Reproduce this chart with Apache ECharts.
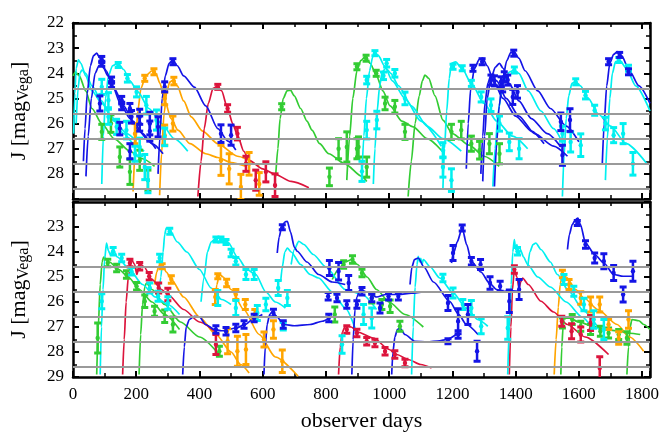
<!DOCTYPE html>
<html lang="en">
<head>
    <meta charset="UTF-8">
    <title>J light curves</title>
    <style>
        body { margin: 0; background: #fff; }
        #main { width: 664px; height: 443px; }
    </style>
    <script src="https://cdnjs.cloudflare.com/ajax/libs/echarts/6.0.0/echarts.min.js"></script>
</head>
<body>
    <div id="main"></div>
    <script>
        // ---- data: [day, mag] for curves, [day, mag, err] for points ----
        const guideMags = [24.6, 25.6, 26.6, 27.6, 28.6];
        const xTicks = [0, 200, 400, 600, 800, 1000, 1200, 1400, 1600, 1800];

        // top panel
        const topBlueCurves = [
            [[33,27.5],[38,26.2],[45,24.8],[55,23.7],[65,23.3],[75,23.2],[85,23.4],[97,23.8],[110,24.1],[130,24.6],[160,25.3],[190,25.9],[220,26.4],[250,26.8],[285,27.2]],
            [[41,28.1],[48,26.5],[58,25.0],[70,24.0],[82,23.7],[92,23.65],[105,23.9],[125,24.5],[150,25.2],[180,25.8],[210,26.3],[240,26.7],[262,27.0]],
            [[269,28.0],[275,26.5],[282,25.0],[292,24.1],[304,23.6],[316,23.47],[330,23.7],[350,24.1],[384,24.55],[420,25.3],[458,26.2],[490,26.7],[515,27.05]],
            [[1244,27.8],[1250,26.0],[1258,24.6],[1270,23.8],[1285,23.45],[1296,23.4],[1310,23.7],[1330,24.3],[1360,25.0],[1400,25.7],[1450,26.3],[1490,26.8]],
            [[1296,28.3],[1302,26.5],[1310,25.0],[1322,24.2],[1336,23.75],[1349,23.6],[1360,23.8],[1380,24.4],[1410,25.1],[1450,25.8],[1500,26.4],[1543,26.93]],
            [[1333,28.5],[1340,26.8],[1348,25.3],[1358,24.3],[1372,23.5],[1385,23.17],[1395,23.14],[1410,23.4],[1430,23.9],[1470,24.7],[1510,25.4],[1560,26.1],[1600,26.73]],
            [[1290,28.0],[1296,26.5],[1303,25.2],[1312,24.4],[1322,24.07],[1340,24.3],[1370,25.0],[1410,25.7],[1460,26.4],[1520,26.9],[1564,27.3]],
            [[1674,27.65],[1680,26.0],[1688,24.5],[1698,23.6],[1710,23.25],[1721,23.14],[1735,23.3],[1760,23.9],[1790,24.5],[1825,25.2]]
        ];
        const topCyanCurves = [
            [[2,26.4],[6,24.8],[10,23.8],[17,23.47],[25,23.6],[40,24.1],[60,24.7],[91,25.2],[130,25.9],[170,26.4],[200,26.7]],
            [[10,26.0],[16,24.6],[22,24.0],[28,23.87],[40,24.0],[60,24.5],[90,25.1],[120,25.7],[160,26.4],[200,26.9],[225,27.1]],
            [[91,28.4],[96,26.5],[103,25.0],[112,24.1],[125,23.7],[143,23.6],[160,23.85],[180,24.3],[206,24.75],[240,25.4],[280,26.0],[320,26.6],[363,27.1]],
            [[914,28.0],[920,26.5],[928,25.0],[938,23.9],[948,23.35],[955,23.2],[966,23.3],[985,23.7],[1010,24.3],[1050,25.0],[1100,25.9],[1165,26.9]],
            [[950,28.4],[955,27.0],[962,25.5],[970,24.5],[978,23.94],[990,23.8],[1005,24.0],[1030,24.5],[1070,25.3],[1120,26.1],[1170,26.6],[1228,27.1]],
            [[1170,28.6],[1175,27.0],[1182,25.5],[1190,24.2],[1197,23.6],[1210,23.55],[1230,23.8],[1260,24.4],[1300,25.2],[1340,25.9],[1390,26.5],[1438,27.0]],
            [[1328,28.5],[1335,27.0],[1345,25.5],[1360,24.4],[1380,23.95],[1396,23.87],[1410,24.0],[1440,24.7],[1480,25.5],[1520,26.2],[1553,26.9]],
            [[1548,28.9],[1553,27.3],[1560,25.8],[1568,24.9],[1578,24.4],[1590,24.34],[1605,24.5],[1630,25.0],[1660,25.6],[1700,26.1],[1750,26.8],[1815,27.6]],
            [[1684,28.25],[1690,26.6],[1698,25.0],[1706,24.0],[1716,23.54],[1730,23.5],[1750,23.8],[1780,24.5],[1825,25.5]]
        ];
        const topGreenCurves = [
            [[0,24.1],[8,23.95],[20,24.1],[40,24.7],[60,25.4],[91,26.0],[130,26.6],[180,27.1],[220,27.4],[258,27.7]],
            [[641,28.1],[648,27.0],[655,25.8],[665,25.0],[677,24.7],[688,24.67],[700,24.9],[720,25.4],[740,25.9],[756,26.26],[780,26.8],[809,27.2],[860,27.6],[914,28.1],[929,28.3]],
            [[866,28.25],[875,26.5],[885,25.0],[898,23.9],[910,23.5],[924,23.34],[940,23.6],[960,24.1],[980,24.7],[1003,25.3],[1040,25.9],[1076,26.13],[1120,26.6],[1165,27.06]],
            [[1060,28.9],[1070,27.5],[1082,26.0],[1095,24.9],[1105,24.3],[1113,24.07],[1125,24.2],[1145,24.9],[1170,25.86],[1200,26.4],[1253,26.86],[1300,27.3],[1348,27.7]]
        ];
        const topOrangeCurves = [
            [[190,28.7],[197,27.0],[205,25.5],[215,24.6],[230,24.1],[250,23.9],[262,24.0],[275,24.4],[290,25.07],[310,25.8],[332,26.26],[370,26.8],[420,27.2],[458,27.35],[500,27.55],[546,27.7]],
            [[274,28.85],[280,27.2],[288,25.6],[297,24.7],[306,24.35],[316,24.27],[330,24.5],[350,25.1],[374,25.73],[410,26.3],[458,26.8],[520,27.3],[589,27.7]]
        ];
        const topRedCurves = [
            [[395,28.9],[405,27.5],[415,26.2],[428,25.2],[443,24.6],[458,24.5],[470,24.7],[489,25.4],[505,26.0],[520,26.45],[540,27.1],[557,27.46],[600,27.8],[636,28.0],[690,28.3],[746,28.55]]
        ];

        const topBluePts = [
            [91,23.45,0.12],[91,23.62,0.1],[122,24.27,0.12],[122,24.45,0.12],[85,25.2,0.3],[154,25.07,0.15],[154,25.3,0.15],[180,25.4,0.2],[185,25.73,0.25],[211,25.73,0.3],[211,26.0,0.3],[243,26.0,0.45],[243,26.3,0.4],[269,26.13,0.4],[148,26.2,0.25],[180,27.1,0.3],[290,24.54,0.2],[316,23.54,0.12],[468,26.4,0.35],[500,26.46,0.4],
            [1265,23.8,0.12],[1294,23.54,0.12],[1322,24.27,0.2],[1333,24.3,0.2],[1354,24.34,0.2],[1394,23.2,0.12],[1364,24.14,0.2],[1375,24.27,0.2],[1359,24.54,0.2],[1391,24.94,0.3],[1406,24.74,0.25],[1543,25.93,0.35],[1572,25.86,0.45],[1548,27.26,0.4],[1694,23.54,0.12],[1729,23.27,0.1],[1757,23.94,0.12]
        ];
        const topCyanPts = [
            [143,23.67,0.1],[172,24.2,0.15],[201,24.74,0.2],[91,24.54,0.3],[112,25.07,0.3],[112,25.73,0.3],[138,26.13,0.3],[169,26.26,0.35],[232,25.27,0.35],[264,25.86,0.4],[290,26.53,0.35],[211,26.93,0.35],[227,27.73,0.5],[196,27.2,0.3],[237,28.25,0.5],
            [955,23.2,0.1],[929,24.27,0.15],[992,23.6,0.15],[1018,24.0,0.15],[982,24.1,0.15],[1050,25.0,0.25],[929,26.26,0.35],[961,25.86,0.35],[914,27.9,0.4],[1170,27.73,0.4],[1197,28.25,0.45],[1170,27.06,0.3],[1202,23.74,0.1],[1231,23.8,0.1],[1260,24.4,0.12],[1291,24.94,0.2],[1322,25.27,0.25],[1349,26.0,0.3],
            [1396,23.87,0.12],[1380,26.73,0.35],[1411,27.0,0.4],[1590,24.34,0.12],[1621,24.87,0.15],[1650,25.47,0.2],[1684,26.0,0.25],[1710,26.46,0.3],[1740,26.4,0.4],[1771,27.6,0.45],[1548,26.4,0.3],[1574,26.73,0.4],[1606,26.86,0.45],[1726,23.47,0.1],[1757,23.8,0.12]
        ];
        const topGreenPts = [
            [91,26.33,0.3],[120,26.0,0.35],[148,27.33,0.4],[180,27.92,0.5],[211,27.46,0.4],[237,28.25,0.4],
            [660,25.33,0.12],[811,28.12,0.35],[840,27.0,0.4],[866,26.93,0.6],[898,27.0,0.4],[898,23.74,0.12],
            [927,23.4,0.12],[959,24.0,0.12],[987,25.2,0.25],[1018,25.33,0.25],[1050,26.33,0.3],[903,26.93,0.4],[929,27.73,0.4],[1197,26.33,0.3],[1228,26.26,0.35],[1260,26.8,0.3],[1286,27.06,0.35],[1317,26.8,0.4],[1349,27.2,0.4]
        ];
        const topOrangePts = [
            [227,24.2,0.12],[256,23.94,0.12],[319,24.31,0.15],[290,25.0,0.25],[316,26.0,0.3],[196,26.4,0.4],[290,26.46,0.4],[468,27.46,0.6],[494,27.8,0.6],[531,28.52,0.5],[557,27.6,0.45],[589,28.4,0.45]
        ];
        const topRedPts = [
            [458,24.54,0.1],[489,25.4,0.15],[520,26.4,0.25],[547,27.6,0.3],[578,28.25,0.4],[610,27.92,0.4],[639,28.45,0.45]
        ];

        // bottom panel
        const botBlueCurves = [
            [[347,28.9],[352,27.8],[358,27.0],[368,26.7],[384,26.57],[400,26.6],[420,26.9],[447,27.1],[470,27.15],[514,27.05],[545,26.9],[573,26.64],[599,26.5]],
            [[604,28.9],[608,27.8],[614,26.9],[622,26.5],[631,26.37],[645,26.6],[667,26.9],[700,26.95],[750,26.9],[788,26.77],[810,26.65]],
            [[646,24.04],[652,23.4],[660,23.0],[670,22.8],[678,22.77],[688,23.2],[700,23.8],[709,23.97],[740,24.4],[777,24.9],[820,25.2],[861,25.3]],
            [[882,28.9],[886,27.5],[892,26.3],[898,25.8],[908,25.5],[930,25.6],[960,25.8],[990,25.7],[1030,25.7],[1070,25.65],[1108,25.6]],
            [[1008,28.9],[1012,28.0],[1018,27.4],[1026,27.1],[1034,27.04],[1050,27.3],[1081,27.57],[1120,27.6],[1160,27.55],[1181,27.5],[1212,27.3]],
            [[1066,25.3],[1072,24.6],[1080,24.3],[1092,24.24],[1110,24.6],[1140,25.2],[1191,25.97],[1220,26.5],[1244,26.9],[1281,27.3]],
            [[1197,24.44],[1205,24.0],[1215,23.6],[1231,23.04],[1245,23.7],[1260,24.37],[1290,24.8],[1317,25.24],[1340,25.5],[1359,25.57],[1390,25.55],[1417,25.57]],
            [[1564,23.9],[1570,23.3],[1579,22.9],[1590,22.7],[1597,22.64],[1605,22.9],[1621,23.64],[1650,24.1],[1679,24.44],[1710,24.9],[1740,24.97],[1773,24.97]]
        ];
        const botCyanCurves = [
            [[86,28.9],[90,27.0],[95,25.5],[100,24.3],[106,23.64],[112,23.95],[118,24.1],[127,23.9],[140,24.2],[175,24.64],[220,25.3],[260,25.8],[300,26.1],[337,26.5]],
            [[270,25.9],[278,25.0],[285,24.0],[290,23.3],[295,23.04],[305,23.1],[330,23.6],[360,24.0],[400,24.7],[437,25.44],[470,25.9],[500,26.1]],
            [[405,25.99],[415,25.0],[425,24.0],[437,23.6],[452,23.45],[475,23.45],[490,23.6],[520,24.2],[550,24.7],[578,24.9],[610,25.6],[640,26.0],[672,26.24]],
            [[657,25.17],[662,24.6],[670,24.0],[678,23.84],[690,24.0],[720,24.5],[750,24.9],[777,25.04],[820,25.6],[861,26.24],[903,27.44]],
            [[690,24.5],[700,23.9],[714,23.57],[730,23.7],[760,24.1],[800,24.6],[861,25.5],[914,25.7],[960,26.3]],
            [[1071,28.9],[1076,27.0],[1082,25.4],[1088,24.5],[1092,24.17],[1097,24.4],[1100,24.25],[1104,24.5],[1108,24.3],[1130,24.6],[1160,25.04],[1200,25.6],[1244,26.24],[1280,26.7],[1312,26.97]],
            [[1375,28.9],[1380,27.0],[1386,25.3],[1391,24.0],[1396,23.5],[1400,23.9],[1404,23.7],[1410,24.1],[1415,23.9],[1425,24.2],[1438,24.5],[1470,25.0],[1510,25.4],[1560,26.0],[1610,26.6],[1640,27.0]],
            [[1438,24.64],[1445,24.0],[1455,23.7],[1464,23.64],[1480,23.9],[1510,24.4],[1532,24.9],[1570,25.6],[1616,26.37],[1668,27.17]]
        ];
        const botGreenCurves = [
            [[75,28.9],[80,27.0],[86,25.3],[92,24.4],[97,24.2],[115,24.4],[145,24.7],[175,25.0],[210,25.5],[250,26.0],[290,26.5],[337,27.1]],
            [[209,28.9],[214,27.3],[220,26.1],[227,25.4],[232,25.24],[250,25.5],[290,26.1],[340,26.8],[400,27.4],[458,28.04]],
            [[820,25.1],[840,24.7],[860,24.4],[882,24.3],[900,24.5],[930,25.0],[960,25.5],[1000,26.0],[1050,26.5],[1108,27.0]],
            [[1543,28.9],[1546,27.8],[1550,27.0],[1553,26.64],[1570,26.65],[1600,26.8],[1640,26.95],[1680,27.1],[1720,27.15],[1760,27.25],[1794,27.3]],
            [[1752,28.9],[1757,27.8],[1762,27.0],[1768,26.7],[1790,26.75],[1805,26.9],[1825,27.1]]
        ];
        const botOrangeCurves = [
            [[258,25.3],[265,24.8],[272,24.55],[282,24.5],[295,24.8],[311,25.1],[350,25.8],[400,26.6],[452,27.3],[500,28.0],[530,28.5],[557,28.84]],
            [[450,25.84],[455,25.3],[463,24.9],[475,25.0],[500,25.5],[540,26.3],[589,27.3],[640,28.2],[712,28.97]],
            [[1522,28.9],[1528,27.5],[1535,26.2],[1541,25.3],[1548,24.84],[1560,25.0],[1590,25.5],[1616,25.84],[1660,26.3],[1721,26.9],[1760,27.4],[1805,27.97]]
        ];
        const botRedCurves = [
            [[157,28.9],[162,27.5],[168,26.0],[175,25.0],[185,24.3],[195,24.5],[202,24.9],[211,24.44],[225,24.6],[250,25.1],[280,25.5],[300,25.7],[350,26.3],[400,26.8],[458,27.3]],
            [[840,28.9],[845,27.8],[852,27.2],[861,26.97],[880,27.0],[900,27.2],[950,27.44],[1000,27.9],[1024,28.1],[1060,28.3],[1100,28.5],[1134,28.64]],
            [[1380,28.9],[1385,27.0],[1390,25.5],[1396,24.7],[1404,25.0],[1411,25.44],[1416,25.2],[1422,25.04],[1440,25.3],[1480,25.97],[1520,26.4],[1564,26.9],[1620,27.4],[1694,28.1]]
        ];

        const botBluePts = [
            [452,27.1,0.15],[484,27.17,0.15],[515,27.04,0.15],[541,26.9,0.15],[573,26.64,0.15],[634,26.44,0.15],[665,26.9,0.15],[662,23.01,0.1],[811,24.64,0.3],[840,24.77,0.35],[807,25.77,0.15],[835,25.84,0.15],[866,26.1,0.15],[872,25.24,0.3],[898,26.1,0.15],[809,26.64,0.15],
            [914,25.57,0.15],[945,25.84,0.15],[971,26.24,0.2],[998,25.77,0.15],[1029,25.77,0.15],[1186,26.04,0.3],[1218,26.77,0.5],[1249,26.5,0.4],[1186,27.57,0.1],[1218,27.3,0.15],[1278,27.97,0.4],[1202,24.04,0.3],[1231,23.04,0.12],[1260,24.37,0.15],[1289,24.5,0.2],[1319,25.24,0.25],[1351,25.37,0.2],
            [1380,25.97,0.45],[1411,25.5,0.4],[1595,22.84,0.1],[1621,23.7,0.15],[1650,24.24,0.2],[1679,24.37,0.3],[1710,24.84,0.3],[1740,25.7,0.3],[1771,24.77,0.4]
        ];
        const botCyanPts = [
            [91,25.97,0.3],[127,23.97,0.15],[154,24.24,0.15],[185,24.77,0.15],[243,25.44,0.2],[269,25.77,0.2],[300,26.04,0.25],[274,24.24,0.15],[306,23.17,0.12],
            [452,23.5,0.1],[468,23.5,0.1],[484,23.6,0.1],[500,24.04,0.15],[515,24.37,0.15],[547,24.9,0.2],[573,24.9,0.2],[458,25.84,0.3],[515,26.24,0.3],[583,26.44,0.3],[610,26.1,0.25],[649,25.44,0.3],[665,26.97,0.15],[678,25.84,0.3],[851,27.7,0.35],
            [1170,25.04,0.15],[1202,25.64,0.2],[1233,26.1,0.2],[1260,26.24,0.3],[1291,26.97,0.3],[919,26.5,0.4],[945,26.64,0.4],
            [1375,27.04,0.45],[1406,23.97,0.15],[1553,25.1,0.2],[1584,25.57,0.2],[1616,26.1,0.25],[1647,26.7,0.35],[1679,27.1,0.4]
        ];
        const botGreenPts = [
            [78,27.44,0.6],[110,24.44,0.15],[138,24.64,0.15],[169,24.9,0.15],[201,25.37,0.15],[227,25.97,0.25],[258,26.37,0.2],[290,26.57,0.25],[316,26.9,0.3],[463,27.97,0.2],
            [828,26.5,0.3],[856,24.5,0.15],[884,24.3,0.15],[914,24.84,0.15],[945,25.84,0.2],[977,26.1,0.2],[1003,26.17,0.25],[1034,26.97,0.2],
            [1548,26.84,0.2],[1579,26.7,0.2],[1606,26.97,0.2],[1637,27.1,0.2],[1668,27.17,0.2],[1694,27.24,0.2],[1726,27.3,0.2],[1752,27.44,0.25]
        ];
        const botOrangePts = [
            [282,24.57,0.1],[311,25.1,0.15],[458,24.97,0.1],[450,25.8,0.3],[486,25.24,0.15],[515,25.7,0.2],[489,27.57,0.5],[520,27.97,0.6],[547,27.9,0.6],[545,26.1,0.2],[575,26.5,0.2],[604,27.5,0.3],[634,27.1,0.35],[662,28.37,0.45],
            [1548,24.88,0.15],[1569,25.3,0.2],[1606,25.84,0.25],[1637,26.1,0.3],[1666,26.1,0.3],[1694,26.9,0.2],[1726,27.44,0.25],[1757,26.7,0.35]
        ];
        const botRedPts = [
            [180,24.44,0.15],[211,24.57,0.15],[241,24.97,0.15],[271,25.44,0.2],[300,25.7,0.25],[452,27.7,0.4],
            [866,27.1,0.15],[898,27.24,0.15],[929,27.57,0.15],[955,27.64,0.15],[987,27.97,0.15],[1018,28.1,0.15],[1050,28.44,0.15],
            [1396,24.7,0.15],[1546,26.77,0.2],[1577,27.17,0.3],[1606,27.3,0.3],[1637,26.84,0.3],[1666,28.64,0.45]
        ];

        // ---- styling ----
        const BLUE = '#1414e6', CYAN = '#00f0f0', GREEN = '#33cc33', ORANGE = '#ffa500', RED = '#dc143c';
        const FONT = 'Liberation Serif';

        const chart = echarts.init(document.getElementById('main'));
        window.addEventListener('resize', () => chart.resize());

        function renderErr(params, api) {
            const x = api.value(0), y = api.value(1), e = api.value(2);
            const a = api.coord([x, y - e]), b = api.coord([x, y + e]), c = api.coord([x, y]);
            const color = api.visual('color');
            const st = { stroke: color, lineWidth: 2.5 };
            const w = 3.5;
            return {
                type: 'group',
                children: [
                    { type: 'line', shape: { x1: a[0], y1: a[1], x2: b[0], y2: b[1] }, style: st },
                    { type: 'line', shape: { x1: a[0] - w, y1: a[1], x2: a[0] + w, y2: a[1] }, style: { stroke: color, lineWidth: 3 } },
                    { type: 'line', shape: { x1: b[0] - w, y1: b[1], x2: b[0] + w, y2: b[1] }, style: { stroke: color, lineWidth: 3 } },
                    { type: 'circle', shape: { cx: c[0], cy: c[1], r: 2.2 }, style: { fill: color } }
                ]
            };
        }

        const series = [];
        function addPanel(idx, groups) {
            // gray guide lines
            series.push({
                type: 'line', xAxisIndex: idx * 2, yAxisIndex: idx * 2, data: [], z: 1,
                markLine: {
                    silent: true, symbol: 'none', label: { show: false },
                    lineStyle: { color: '#9a9a9a', width: 1.8, type: 'solid' },
                    data: guideMags.map(m => ({ yAxis: m }))
                }
            });
            groups.forEach(([curves, pts, color]) => {
                curves.forEach(c => series.push({
                    type: 'line', xAxisIndex: idx * 2, yAxisIndex: idx * 2,
                    data: c, showSymbol: false, smooth: 0.25, smoothMonotone: 'x',
                    lineStyle: { color: color, width: 1.7 }, z: 2, silent: true
                }));
                series.push({
                    type: 'custom', xAxisIndex: idx * 2, yAxisIndex: idx * 2,
                    data: pts, renderItem: renderErr, clip: true,
                    itemStyle: { color: color }, z: 3, silent: true
                });
            });
        }

        addPanel(0, [
            [topGreenCurves, topGreenPts, GREEN],
            [topOrangeCurves, topOrangePts, ORANGE],
            [topRedCurves, topRedPts, RED],
            [topCyanCurves, topCyanPts, CYAN],
            [topBlueCurves, topBluePts, BLUE]
        ]);
        addPanel(1, [
            [botGreenCurves, botGreenPts, GREEN],
            [botOrangeCurves, botOrangePts, ORANGE],
            [botRedCurves, botRedPts, RED],
            [botCyanCurves, botCyanPts, CYAN],
            [botBlueCurves, botBluePts, BLUE]
        ]);

        const frame = { show: true, onZero: false, lineStyle: { color: '#000', width: 2.5 } };
        const tick = { show: true, inside: true, length: 6, lineStyle: { color: '#000', width: 2 } };
        const minor = { show: true, splitNumber: 2, length: 4, lineStyle: { color: '#000', width: 1.5 } };

        function xAx(grid, pos, labels) {
            return {
                type: 'value', gridIndex: grid, position: pos, min: 0, max: 1825, interval: 200,
                axisLine: frame, axisTick: tick, minorTick: minor, splitLine: { show: false },
                axisLabel: {
                    show: labels, margin: 9, fontFamily: FONT, fontSize: 17, color: '#000',
                    showMaxLabel: false,
                    formatter: v => (xTicks.indexOf(v) >= 0 ? String(v) : '')
                },
                name: labels ? 'observer days' : '', nameLocation: 'middle', nameGap: 33,
                nameTextStyle: { fontFamily: FONT, fontSize: 22, color: '#000' }
            };
        }
        function yAx(grid, pos, labels, showVal) {
            return {
                type: 'value', gridIndex: grid, position: pos, min: 22, max: 29, interval: 1, inverse: true,
                axisLine: frame, axisTick: tick, minorTick: minor, splitLine: { show: false },
                axisLabel: {
                    show: labels, margin: 9, fontFamily: FONT, fontSize: 17, color: '#000',
                    formatter: v => (showVal(v) ? String(v) : '')
                },
                name: labels ? '{a|J [mag}{b|Vega}{a|]}' : '', nameLocation: 'middle', nameGap: 41, nameRotate: 90,
                nameTextStyle: {
                    color: '#000',
                    rich: {
                        a: { fontFamily: FONT, fontSize: 22, color: '#000' },
                        b: { fontFamily: FONT, fontSize: 16, color: '#000', padding: [10, 0, 0, 0] }
                    }
                }
            };
        }

        chart.setOption({
            animation: false,
            backgroundColor: '#fff',
            grid: [
                { left: 69, right: 14, top: 23, height: 176 },
                { left: 69, right: 14, top: 202, height: 175 }
            ],
            xAxis: [
                xAx(0, 'bottom', false), xAx(0, 'top', false),
                xAx(1, 'bottom', true), xAx(1, 'top', false)
            ],
            yAxis: [
                yAx(0, 'left', true, v => v <= 28), yAx(0, 'right', false, () => false),
                yAx(1, 'left', true, v => v >= 23), yAx(1, 'right', false, () => false)
            ],
            series: series
        });
    </script>
</body>
</html>
